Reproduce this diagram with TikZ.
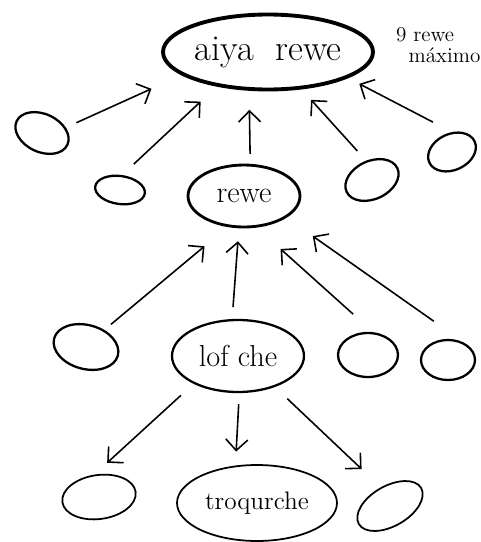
\documentclass[tikz,border=0pt]{standalone}
\usepackage{amsmath}
\usepackage{xcolor}
\usetikzlibrary{arrows.meta,shapes.geometric}
\tikzset{
	ring/.style={ellipse, draw, line width=1.3pt, inner sep=0pt},
	arr/.style={-{Straight Barb[length=2.2mm,width=4.4mm]}, line width=0.9pt}
}

\begin{document}
\begin{tikzpicture}[x=0.02cm, y=-0.02cm]
		\useasboundingbox (0,0) rectangle (481,542);
		% Top
		\node[ring, line width=2.2pt, minimum width=4.2cm, minimum height=1.5cm] (aiya) at (268,52) {\huge aiya\ \ rewe};
		\node[anchor=west, align=left] (note) at (390,45) {\large 9 rewe\\\large\hspace{0.25cm}máximo};
		% Second row
		\node[ring, rotate=-25, minimum width=1.12cm, minimum height=0.76cm] (l1) at (42,133) {};
		\node[ring, rotate=-8, minimum width=1.0cm, minimum height=0.56cm] (l2) at (120,190) {};
		\node[ring, line width=1.6pt, minimum width=2.24cm, minimum height=1.24cm] (rewe) at (244,196) {\LARGE rewe};
		\node[ring, rotate=25, minimum width=1.12cm, minimum height=0.76cm] (r3) at (372,180) {};
		\node[ring, rotate=25, minimum width=1.0cm, minimum height=0.72cm] (r4) at (452,152) {};
		% Third row
		\node[ring, rotate=-15, minimum width=1.32cm, minimum height=0.88cm] (a) at (86,347) {};
		\node[ring, minimum width=2.64cm, minimum height=1.44cm] (lofche) at (238,356) {\LARGE lof che};
		\node[ring, minimum width=1.2cm, minimum height=0.88cm] (b) at (368,355) {};
		\node[ring, minimum width=1.08cm, minimum height=0.8cm] (c) at (448,360) {};
		% Bottom
		\node[ring, line width=1pt, rotate=8, minimum width=1.48cm, minimum height=0.88cm] (d) at (99,497) {};
		\node[ring, line width=1pt, minimum width=3.2cm, minimum height=1.52cm] (troq) at (257,503) {\Large troqurche};
		\node[ring, line width=1pt, rotate=30, minimum width=1.44cm, minimum height=0.8cm] (e) at (390,506) {};
		% Arrows to aiya rewe
		\draw[arr, shorten <=0.23cm, shorten >=0.66cm] (l1.38) -- (aiya.195.5);
		\draw[arr, shorten <=0.32cm, shorten >=0.44cm] (l2.90) -- (aiya.214);
		\draw[arr, shorten <=0.2cm, shorten >=0.38cm] (rewe.79) -- (aiya.244);
		\draw[arr, shorten <=0.26cm, shorten >=0.28cm] (r3.82) -- (aiya.312.5);
		\draw[arr, shorten <=0.43cm, shorten >=0.25cm] (r4.65) -- (aiya.342);
		% Arrows to rewe
		\draw[arr, shorten <=0.17cm, shorten >=0.6cm] (a.58) -- (rewe.242);
		\draw[arr, shorten <=0.24cm, shorten >=0.26cm] (lofche.99.5) -- (rewe.261);
		\draw[arr, shorten <=0.54cm, shorten >=0.64cm] (b.77) -- (rewe.292);
		\draw[arr, shorten <=0.76cm, shorten >=0.64cm] (c.45) -- (rewe.333);
		% Arrows from lof che
		\draw[arr, shorten <=0.34cm, shorten >=0.35cm] (lofche.212) -- (d.94);
		\draw[arr, shorten <=0.22cm, shorten >=0.28cm] (lofche.272) -- (troq.120);
		\draw[arr, shorten <=0.34cm, shorten >=0.53cm] (lofche.320) -- (e.86);
	\end{tikzpicture}
\end{document}
